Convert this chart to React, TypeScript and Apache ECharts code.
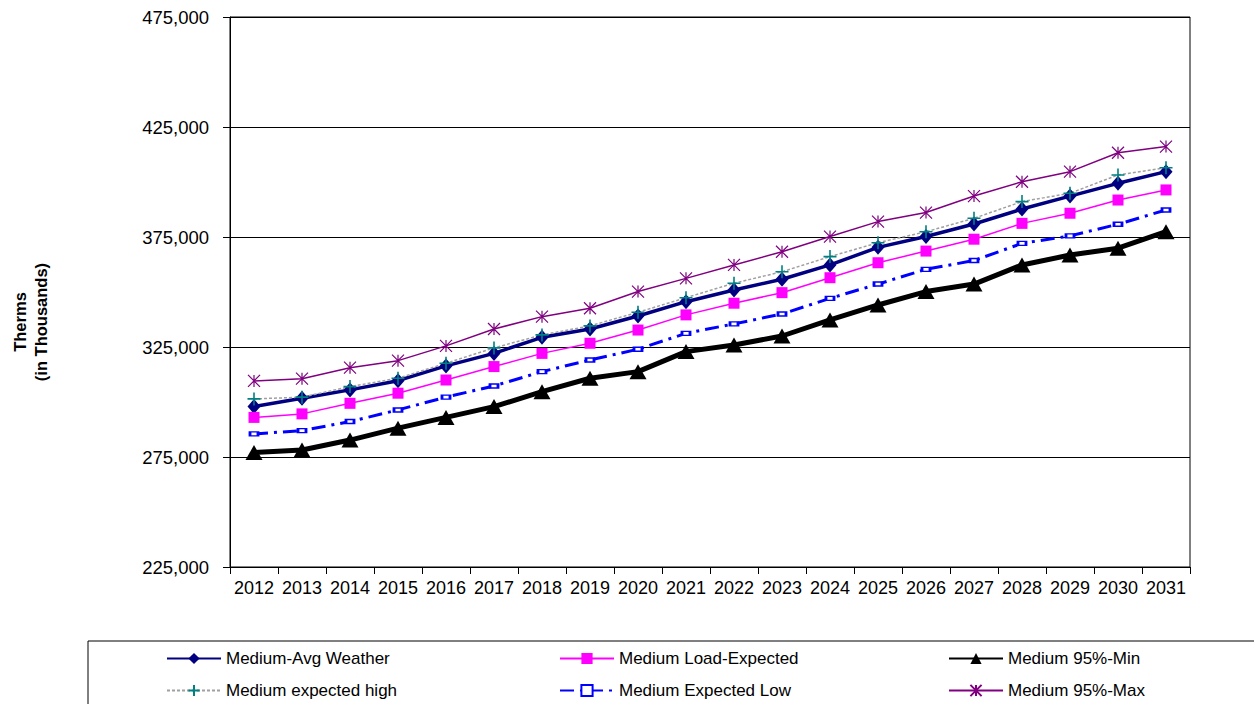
import React, { useEffect, useRef } from "react";
import * as echarts from "echarts";

const years = ["2012","2013","2014","2015","2016","2017","2018","2019","2020","2021","2022","2023","2024","2025","2026","2027","2028","2029","2030","2031"];

const avgWeather = [297900, 301700, 305500, 309700, 316400, 322100, 329400, 333200, 339100, 345600, 350900, 355800, 362300, 370300, 375200, 380900, 387700, 393600, 399400, 404700];
const loadExpected = [293000, 294600, 299400, 304000, 310000, 316100, 322100, 326700, 332700, 339600, 344900, 349700, 356500, 363300, 368600, 374000, 381200, 385800, 391800, 396400];
const min95 = [277000, 278200, 282700, 288100, 293000, 297900, 304700, 310800, 313800, 322900, 325900, 330000, 337300, 344100, 350200, 353600, 362300, 366800, 369900, 377400];
const expectedHigh = [301400, 302200, 307000, 310800, 317600, 324600, 330500, 334600, 340800, 347400, 354000, 359200, 366100, 372400, 377400, 383500, 391100, 394900, 403200, 406500];
const expectedLow = [285500, 287000, 291100, 296400, 302200, 307300, 313800, 319100, 324000, 331200, 335500, 340000, 347100, 353600, 360300, 364300, 372100, 375500, 380800, 387300];
const max95 = [309600, 310600, 315600, 318800, 325500, 333200, 338800, 342600, 350200, 356200, 362300, 368300, 375200, 382000, 386100, 393600, 400100, 404700, 413300, 416100];

const yTicks = { min: 225000, max: 475000, interval: 50000 };

const FONT = "'Liberation Sans', Arial, sans-serif";

export default function App() {
  const ref = useRef<HTMLDivElement>(null);
  useEffect(() => {
    document.body.style.margin = "0";
    const chart = echarts.init(ref.current!, null, { renderer: "svg" });
    const legendText = { fontFamily: FONT, fontSize: 17, color: "#000" };
    const mkLegend = (name: string, left: number, top: number) => ({
      data: [name],
      left,
      top,
      padding: 0,
      itemWidth: 54,
      itemHeight: 14,
      itemGap: 0,
      textStyle: legendText,
      selectedMode: false,
    });
    const plus = "path://M5,0L5,10M0,5L10,5";
    const star = "path://M0,0L10,10M10,0L0,10M5,0L5,10";
    chart.setOption({
      animation: false,
      backgroundColor: "#fff",
      grid: { left: 230, right: 64, top: 17, bottom: 137, show: true, borderColor: "#000", borderWidth: 1 },
      xAxis: {
        type: "category",
        data: years,
        boundaryGap: true,
        axisLine: { lineStyle: { color: "#000", width: 1 } },
        axisTick: { show: true, interval: 0, length: 7, lineStyle: { color: "#000" } },
        axisLabel: { interval: 0, margin: 12, fontFamily: FONT, fontSize: 18, color: "#000" },
      },
      yAxis: {
        type: "value",
        min: yTicks.min,
        max: yTicks.max,
        interval: yTicks.interval,
        axisLine: { show: true, lineStyle: { color: "#000", width: 1 } },
        axisTick: { show: true, length: 7, lineStyle: { color: "#000" } },
        splitLine: { lineStyle: { color: "#000", width: 1 } },
        axisLabel: {
          margin: 21,
          fontFamily: FONT,
          fontSize: 18.5,
          color: "#000",
          formatter: (v: number) => v.toLocaleString("en-US"),
        },
      },
      legend: [
        mkLegend("Medium-Avg Weather", 166, 650),
        mkLegend("Medium Load-Expected", 559, 650),
        mkLegend("Medium 95%-Min", 948, 650),
        mkLegend("Medium expected high", 166, 682),
        mkLegend("Medium Expected Low", 559, 682),
        mkLegend("Medium 95%-Max", 948, 682),
      ],
      graphic: [
        {
          type: "rect",
          shape: { x: 88, y: 641, width: 1200, height: 100 },
          style: { fill: "none", stroke: "#000", lineWidth: 1 },
          silent: true,
        },
        {
          type: "text",
          x: 30,
          y: 322,
          rotation: Math.PI / 2,
          style: {
            text: "Therms\n(in Thousands)",
            fontFamily: FONT,
            fontSize: 16.5,
            fontWeight: "bold",
            lineHeight: 21,
            fill: "#000",
            align: "center",
            verticalAlign: "middle",
          },
        },
      ],
      series: [
        {
          name: "Medium-Avg Weather",
          type: "line",
          data: avgWeather,
          symbol: "diamond",
          symbolSize: [13, 15],
          lineStyle: { color: "#000080", width: 3.5 },
          itemStyle: { color: "#000080" },
        },
        {
          name: "Medium Load-Expected",
          type: "line",
          data: loadExpected,
          symbol: "rect",
          symbolSize: 11,
          lineStyle: { color: "#FF00FF", width: 1.5 },
          itemStyle: { color: "#FF00FF" },
        },
        {
          name: "Medium 95%-Min",
          type: "line",
          data: min95,
          symbol: "triangle",
          symbolSize: [17, 15],
          lineStyle: { color: "#000", width: 5 },
          itemStyle: { color: "#000" },
        },
        {
          name: "Medium expected high",
          type: "line",
          data: expectedHigh,
          symbol: plus,
          symbolSize: 13,
          lineStyle: { color: "#a0a0a0", width: 1.5, type: [3, 2] },
          itemStyle: { color: "#008080", borderColor: "#008080", borderWidth: 1.6 },
        },
        {
          name: "Medium Expected Low",
          type: "line",
          data: expectedLow,
          symbol: "emptyRect",
          symbolSize: [8, 4],
          lineStyle: { color: "#0000FF", width: 3, type: [14, 6, 3, 6] },
          itemStyle: { color: "#0000FF", borderColor: "#0000FF", borderWidth: 1 },
        },
        {
          name: "Medium 95%-Max",
          type: "line",
          data: max95,
          symbol: star,
          symbolSize: 12,
          lineStyle: { color: "#800080", width: 1.5 },
          itemStyle: { color: "#800080", borderColor: "#800080", borderWidth: 1.2 },
        },
      ],
    });
    return () => chart.dispose();
  }, []);
  return <div ref={ref} style={{ width: 1254, height: 704 }} />;
}
